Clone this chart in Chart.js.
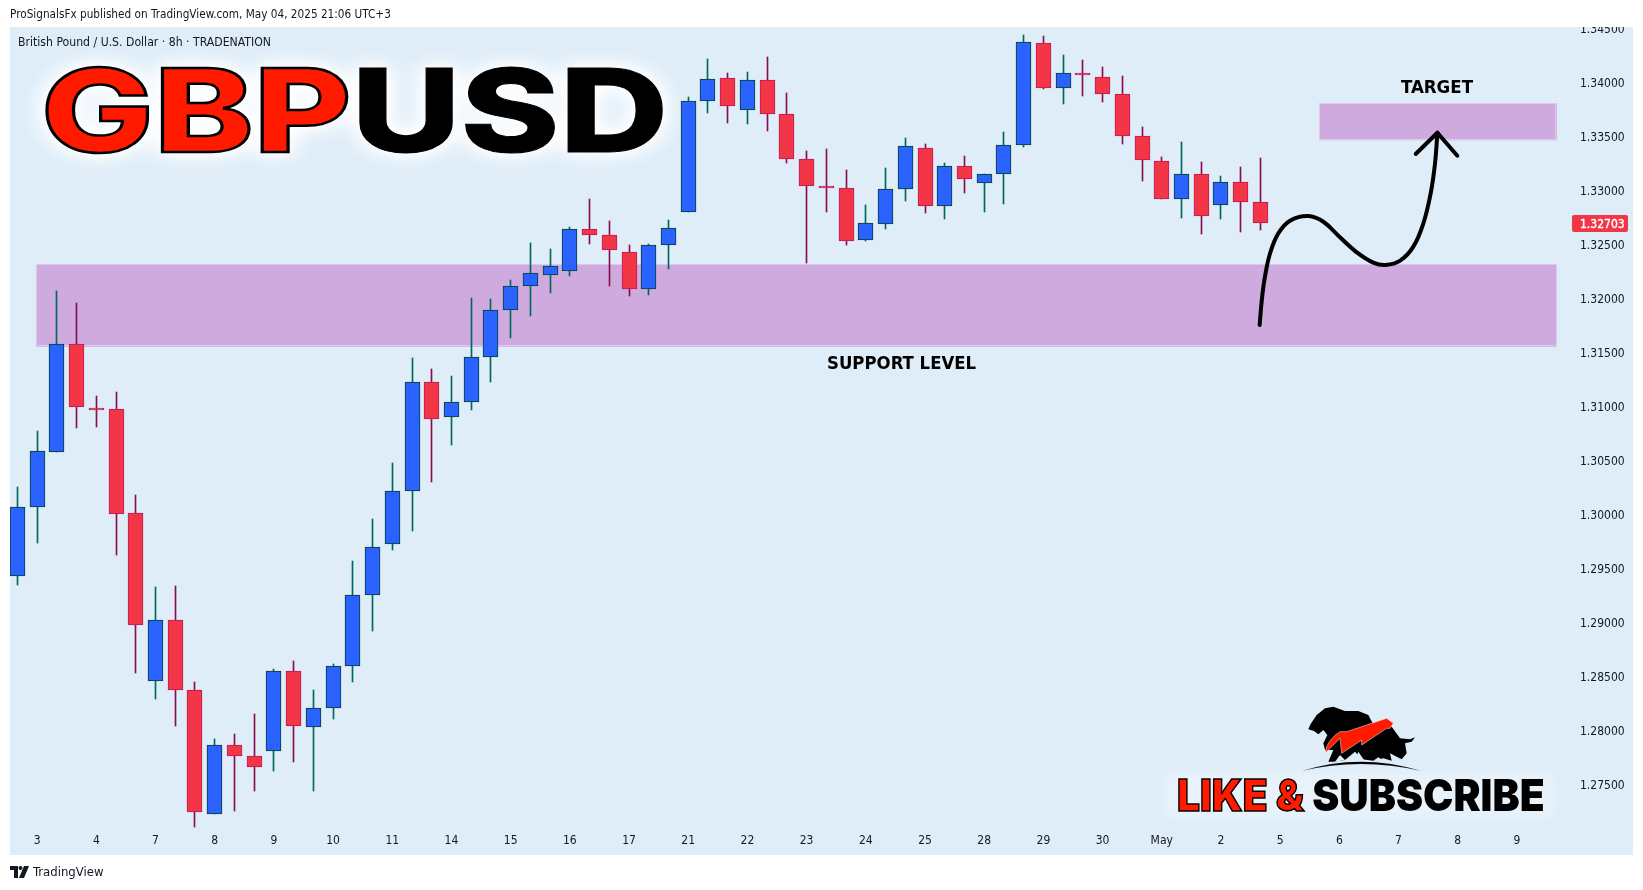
<!DOCTYPE html>
<html>
<head>
<meta charset="utf-8">
<title>GBPUSD</title>
<script src="https://cdn.jsdelivr.net/npm/chart.js@4/dist/chart.umd.min.js"></script>
<style>
html,body{margin:0;padding:0;background:#fff;width:1643px;height:890px;overflow:hidden}
#pane{position:absolute;left:10px;top:27px;width:1623px;height:828px;background:#dfedf8}
#wrap{position:absolute;left:0;top:0;width:1643px;height:890px}
canvas{position:absolute;left:0;top:0}
.t{position:absolute;white-space:nowrap;font-family:"DejaVu Sans Condensed","DejaVu Sans",sans-serif;color:#131722}
#head{position:absolute;left:0;top:0;width:1643px;height:27px;background:#fff}
#big{position:absolute;left:41px;top:46px;white-space:nowrap;font-family:Inter,Roboto,sans-serif;font-weight:800;font-size:115px;line-height:130px;letter-spacing:0;transform-origin:0 50%;transform:scaleX(1.305);filter:drop-shadow(0 0 8px #fff) drop-shadow(0 0 8px #fff)}
#big .r{color:#ff1a00;-webkit-text-stroke:2.5px #000}
#big .k{color:#000;-webkit-text-stroke:1px #000}
#glow{position:absolute;left:1164px;top:772px;width:390px;height:46px;background:rgba(255,255,255,.3);filter:blur(6px)}
#sub{position:absolute;left:1177px;top:770px;white-space:nowrap;font-family:Inter,Roboto,sans-serif;font-weight:900;font-size:44px;line-height:50px;transform-origin:0 50%;transform:scaleX(.925)}
#sub .r{color:#ff1a00;-webkit-text-stroke:1.5px #000}
#sub .k{color:#000}
</style>
</head>
<body>
<div id="pane"></div>
<div id="big"><span class="r">GBP</span><span class="k">USD</span></div>
<div id="wrap"><canvas id="c" width="1643" height="890"></canvas></div>
<div id="head"></div>
<div class="t" style="left:10px;top:6px;font-size:11.7px;line-height:17px">ProSignalsFx published on TradingView.com, May 04, 2025 21:06 UTC+3</div>
<div class="t" style="left:18px;top:34px;font-size:12.15px;line-height:17px">British Pound / U.S. Dollar · 8h · TRADENATION</div>
<div class="t" style="left:1401px;top:75px;font-size:18.5px;font-weight:bold;line-height:24px;color:#000">TARGET</div>
<div class="t" style="left:827px;top:351px;font-size:18.4px;font-weight:bold;line-height:24px;color:#000">SUPPORT LEVEL</div>
<svg style="position:absolute;left:1290px;top:700px" width="140" height="80" viewBox="0 0 420 240">
  <path fill="#000" d="M55 88 L62 72 L80 45 L105 25 L130 20 L165 33 L205 33 L235 45 L248 70 L305 80 L330 115 L360 118 L375 112 L365 125 L345 130 L350 160 L335 178 L320 170 L300 160 L305 182 L280 175 L250 182 L215 178 L195 155 L165 180 L130 185 L115 185 L130 150 L105 150 L100 130 L112 105 L100 90 L85 103 L72 93 Z"/>
  <path fill="#dfedf8" d="M135 185 L150 165 L165 180Z M195 180 L205 155 L222 180Z M250 182 L265 172 L280 182Z"/>
  <path fill="#000" d="M35 213 Q210 157 395 213 Q210 171 35 213 Z"/>
  <path fill="#ff1a00" stroke="#fff" stroke-width="1.5" d="M105 160 Q110 120 150 95 L170 95 L230 75 L290 55 L310 70 L300 85 L290 85 L215 135 L215 120 L155 160 L150 115 Z"/>
</svg>
<div id="glow"></div>
<div id="sub"><span class="r">LIKE &amp; </span><span class="k">SUBSCRIBE</span></div>
<svg style="position:absolute;left:10px;top:866px" width="19" height="12" viewBox="0 0 19 12">
  <path fill="#131722" d="M0 0H8V12H4V4H0Z"/><circle cx="10.5" cy="2" r="2" fill="#131722"/><path fill="#131722" d="M14 0H19L14 12H9Z"/>
</svg>
<div class="t" style="left:33px;top:863px;font-size:13px;line-height:18px">TradingView</div>

<script>
// candles are indexed 0..63 on the time axis, three per day
const opens  = [1.29436,1.30073,1.30590,1.31583,1.30993,1.30981,1.30017,1.28461,1.29026,1.28377,1.27228,1.27868,1.27766,1.27812,1.28553,1.28035,
                1.28211,1.28600,1.29258,1.29730,1.30221,1.31231,1.30913,1.31046,1.31463,1.31898,1.32121,1.32228,1.32265,1.32649,1.32599,1.32436,
                1.32099,1.32501,1.32807,1.33835,1.34048,1.33757,1.34030,1.33720,1.33303,1.33053,1.33034,1.32553,1.32701,1.33020,1.33400,1.32868,
                1.33233,1.33081,1.33159,1.33427,1.34372,1.33961,1.34095,1.34057,1.33905,1.33516,1.33279,1.32933,1.33159,1.32877,1.33085,1.32905];
const highs  = [1.30261,1.30777,1.32077,1.31966,1.31104,1.31141,1.30187,1.29332,1.29344,1.28452,1.27923,1.27972,1.28158,1.28575,1.28649,1.28377,
                1.28618,1.29575,1.29965,1.30484,1.31456,1.31355,1.31290,1.32012,1.32003,1.32179,1.32522,1.32466,1.32670,1.32930,1.32726,1.32504,
                1.32513,1.32735,1.33875,1.34227,1.34097,1.34107,1.34246,1.33912,1.33375,1.33393,1.33198,1.32874,1.33217,1.33495,1.33439,1.33263,
                1.33328,1.33165,1.33551,1.34449,1.34440,1.34264,1.34218,1.34153,1.34069,1.33597,1.33319,1.33458,1.33273,1.33143,1.33226,1.33310];
const lows   = [1.29356,1.29745,1.30588,1.30811,1.30820,1.29634,1.28540,1.28300,1.28049,1.27113,1.27228,1.27262,1.27447,1.27632,1.27716,1.27447,
                1.28114,1.28457,1.28930,1.29680,1.29856,1.30307,1.30650,1.30975,1.31237,1.31645,1.31848,1.32059,1.32219,1.32516,1.32126,1.32034,
                1.32040,1.32284,1.32807,1.33729,1.33637,1.33628,1.33563,1.33266,1.32340,1.32812,1.32506,1.32543,1.32652,1.32911,1.32803,1.32744,
                1.32988,1.32812,1.32886,1.33414,1.33949,1.33813,1.33887,1.33831,1.33442,1.33099,1.32933,1.32757,1.32608,1.32744,1.32627,1.32645];
const closes = [1.30073,1.30592,1.31583,1.31000,1.30975,1.30008,1.28980,1.29026,1.28377,1.27247,1.27868,1.27766,1.27664,1.28553,1.28044,1.28211,
                1.28600,1.29258,1.29702,1.30221,1.31231,1.30894,1.31046,1.31463,1.31898,1.32121,1.32241,1.32306,1.32649,1.32599,1.32460,1.32099,
                1.32501,1.32658,1.33835,1.34039,1.33794,1.34030,1.33720,1.33303,1.33053,1.33034,1.32543,1.32705,1.33020,1.33418,1.32868,1.33233,
                1.33118,1.33159,1.33427,1.34382,1.33961,1.34095,1.34082,1.33905,1.33516,1.33294,1.32933,1.33159,1.32775,1.33085,1.32905,1.32703];
const lastPrice = 1.32703;

const xTickIndex  = [1,4,7,10,13,16,19,22,25,28,31,34,37,40,43,46,49,52,55,58,61,64,67,70,73,76];
const xTickLabels = ['3','4','7','8','9','10','11','14','15','16','17','21','22','23','24','25','28','29','30','May','2','5','6','7','8','9'];
const yTicks = [1.345,1.34,1.335,1.33,1.325,1.32,1.315,1.31,1.305,1.30,1.295,1.29,1.285,1.28,1.275];

// price zones: [first index, last index, top price, bottom price]
const supportZone = [0.94,78.02,1.32325,1.31561];
const targetZone  = [65.99,78.02,1.33817,1.33474];

// hand-drawn projection and its arrow head
const pathIndex = [62.96,63.07,63.23,63.49,63.91,64.50,65.43,66.19,67.03,67.88,68.72,69.35,70.08,70.75,71.26,71.63,71.85,71.97];
const pathPrice = [1.31762,1.31994,1.32210,1.32427,1.32612,1.32729,1.32772,1.32719,1.32575,1.32436,1.32340,1.32318,1.32358,1.32488,1.32705,1.32983,1.33261,1.33544];
const headIndex = [70.87,71.97,72.98];
const headPrice = [1.33347,1.33544,1.33331];

const UP='#2962ff',DOWN='#f23645',UP_BORDER='#004034',DOWN_BORDER='#c2185b',UP_WICK='#00695c',DOWN_WICK='#880e4f';
const FONT='"DejaVu Sans Condensed","DejaVu Sans",sans-serif';
const isUp=i=>closes[i]>=opens[i];

const plugin={
  id:'tv',
  beforeDatasetsDraw(chart){
    const {ctx,scales:{x,y}}=chart;
    // crisp candles: snap the library's bar positions to whole pixels
    chart.data.datasets.forEach((ds,k)=>{
      if(ds.type==='line')return;
      chart.getDatasetMeta(k).data.forEach(el=>{
        el.x=Math.floor(el.x)+0.5; el.y=Math.round(el.y); el.base=Math.round(el.base);
      });
    });
    [supportZone,targetZone].forEach(z=>{
      const l=x.getPixelForValue(z[0]),r=x.getPixelForValue(z[1]),t=y.getPixelForValue(z[2]),b=y.getPixelForValue(z[3]);
      ctx.save();
      ctx.fillStyle='#ceaadf';ctx.fillRect(l,t,r-l,b-t);
      ctx.strokeStyle='#e1c6f0';ctx.lineWidth=1;ctx.strokeRect(Math.round(l)+.5,Math.round(t)+.5,Math.round(r-l)-1,Math.round(b-t)-1);
      ctx.restore();
    });
  },
  afterDraw(chart){
    const {ctx,scales:{y}}=chart;
    const p=y.getPixelForValue(lastPrice);
    ctx.save();
    ctx.fillStyle=DOWN;
    ctx.beginPath();ctx.roundRect(1572,Math.round(p)-8,56,17,2);ctx.fill();
    ctx.fillStyle='#fff';ctx.strokeStyle='#fff';ctx.lineWidth=.4;ctx.font='12px '+FONT;ctx.textBaseline='middle';ctx.textAlign='left';
    ctx.fillText(lastPrice.toFixed(5),1580,Math.round(p)+1.5);
    ctx.strokeText(lastPrice.toFixed(5),1580,Math.round(p)+1.5);
    ctx.restore();
  }
};

new Chart(document.getElementById('c'),{
  type:'bar',
  plugins:[plugin],
  data:{datasets:[
    {type:'line',label:'Projection',order:0,data:pathIndex.map((v,i)=>({x:v,y:pathPrice[i]})),borderColor:'#000',borderWidth:4,pointRadius:0,tension:0.4,borderCapStyle:'round',borderJoinStyle:'round',fill:false},
    {type:'line',label:'Arrow',order:0,data:headIndex.map((v,i)=>({x:v,y:headPrice[i]})),borderColor:'#000',borderWidth:4,pointRadius:0,tension:0,borderCapStyle:'round',borderJoinStyle:'round',fill:false},
    {label:'Body',order:1,grouped:false,barThickness:15,borderWidth:1,borderSkipped:false,
      data:opens.map((o,i)=>({x:i,y:[o,closes[i]]})),
      backgroundColor:c=>isUp(c.dataIndex)?UP:DOWN,
      borderColor:c=>isUp(c.dataIndex)?UP_BORDER:DOWN_BORDER},
    {label:'Wick',order:2,grouped:false,barThickness:1,borderWidth:0,borderSkipped:false,
      data:lows.map((l,i)=>({x:i,y:[l,highs[i]]})),
      backgroundColor:c=>isUp(c.dataIndex)?UP_WICK:DOWN_WICK}
  ]},
  options:{
    responsive:false,animation:false,events:[],
    layout:{padding:{left:10,top:27,right:0,bottom:0}},
    plugins:{legend:{display:false},tooltip:{enabled:false},title:{display:false}},
    scales:{
      x:{type:'linear',position:'bottom',offset:false,min:-0.375,max:78.69,
        grid:{display:false,drawTicks:false},border:{display:false},
        afterBuildTicks(s){s.ticks=xTickIndex.map(v=>({value:v}));},
        afterFit(s){s.height=60;},
        ticks:{autoSkip:false,maxRotation:0,minRotation:0,padding:4,color:'#131722',font:{family:FONT,size:12},
          callback:v=>xTickLabels[xTickIndex.indexOf(v)]}},
      y:{type:'linear',position:'right',min:1.270829,max:1.345235,
        grid:{display:false,drawTicks:false},border:{display:false},
        afterBuildTicks(s){s.ticks=yTicks.map(v=>({value:v}));},
        afterFit(s){s.width=73;},
        ticks:{autoSkip:false,padding:10,labelOffset:0.5,color:'#131722',font:{family:FONT,size:12},
          callback:v=>Number(v).toFixed(5)}}
    }
  }
});
</script>
</body>
</html>
